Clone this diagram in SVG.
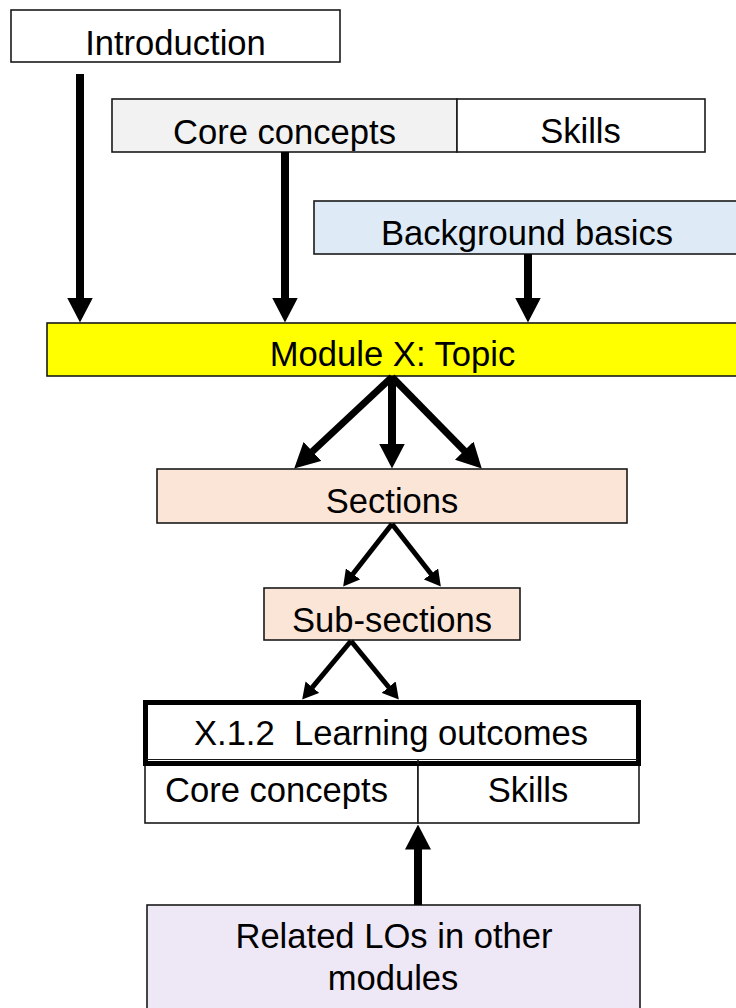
<svg xmlns="http://www.w3.org/2000/svg" width="736" height="1008" viewBox="0 0 736 1008">
  <style>
    .box { stroke: #1a1a1a; stroke-width: 1.6; }
    .txt { font-family: "Liberation Sans", Arial, sans-serif; font-size: 34.6px; fill: #000; text-anchor: middle; white-space: pre; }
    .big { stroke: #000; stroke-width: 8; fill: none; }
    .mid { stroke: #000; stroke-width: 7; fill: none; }
    .sml { stroke: #000; stroke-width: 5; fill: none; }
  </style>
  <defs>
    <marker id="headBig" markerUnits="userSpaceOnUse" viewBox="0 0 25 26" refX="0.5" refY="13" markerWidth="25" markerHeight="26" orient="auto">
      <path d="M0,0 L25,13 L0,26 Z" fill="#000"/>
    </marker>
    <marker id="headSml" markerUnits="userSpaceOnUse" viewBox="0 0 16 18" refX="0.5" refY="9" markerWidth="16" markerHeight="18" orient="auto">
      <path d="M0,0 L16,9 L0,18 Z" fill="#000"/>
    </marker>
  </defs>
  <rect width="736" height="1008" fill="#fff"/>

  <g id="introduction">
    <rect class="box" x="11" y="10" width="329" height="52" fill="#fff"/>
    <text class="txt" x="175.5" y="55">Introduction</text>
  </g>

  <g id="top-core-skills">
    <rect class="box" x="112" y="99" width="345" height="53" fill="#f2f2f2"/>
    <rect class="box" x="457" y="99" width="248" height="53" fill="#fff"/>
    <text class="txt" x="284.5" y="144">Core concepts</text>
    <text class="txt" x="580.5" y="143">Skills</text>
  </g>

  <g id="background-basics">
    <rect class="box" x="314" y="201" width="450" height="53" fill="#deebf7"/>
    <text class="txt" x="527" y="245">Background basics</text>
  </g>

  <g id="module">
    <rect class="box" x="47" y="323" width="720" height="53" fill="#ffff00"/>
    <text class="txt" x="392.5" y="366">Module X: Topic</text>
  </g>

  <g id="sections">
    <rect class="box" x="157" y="469" width="470" height="54" fill="#fbe5d6"/>
    <text class="txt" x="392" y="513">Sections</text>
  </g>

  <g id="sub-sections">
    <rect class="box" x="264" y="588" width="256" height="52" fill="#fbe5d6"/>
    <text class="txt" x="392" y="631.5">Sub-sections</text>
  </g>

  <g id="learning-outcomes">
    <rect class="box" x="145" y="759" width="273" height="64" fill="#fff"/>
    <rect class="box" x="418" y="759" width="221" height="64" fill="#fff"/>
    <rect x="145.5" y="702.5" width="493" height="61" fill="#fff" stroke="#000" stroke-width="5"/>
    <line x1="146" y1="759.5" x2="638" y2="759.5" stroke="#1a1a1a" stroke-width="1.2"/>
    <line x1="418" y1="759" x2="418" y2="764" stroke="#1a1a1a" stroke-width="1.6"/>
    <text class="txt" x="391" y="745">X.1.2  Learning outcomes</text>
    <text class="txt" x="276.5" y="802">Core concepts</text>
    <text class="txt" x="528" y="802">Skills</text>
  </g>

  <g id="related-los">
    <rect class="box" x="147" y="905" width="493" height="120" fill="#eee8f6"/>
    <text class="txt" x="394" y="948">Related LOs in other</text>
    <text class="txt" x="393" y="990">modules</text>
  </g>

  <g id="connectors">
    <line class="big" x1="80" y1="74" x2="80" y2="298" marker-end="url(#headBig)"/>
    <line class="big" x1="285" y1="152" x2="285" y2="298" marker-end="url(#headBig)"/>
    <line class="big" x1="528" y1="254" x2="528" y2="298" marker-end="url(#headBig)"/>
    <line class="big" x1="392" y1="376" x2="392" y2="444" marker-end="url(#headBig)"/>
    <line class="mid" x1="392" y1="377" x2="312.1" y2="451.8" marker-end="url(#headBig)"/>
    <line class="mid" x1="392" y1="377" x2="464.6" y2="451" marker-end="url(#headBig)"/>
    <line class="sml" x1="392" y1="524" x2="352.7" y2="574.3" marker-end="url(#headSml)"/>
    <line class="sml" x1="392" y1="524" x2="431.3" y2="574.3" marker-end="url(#headSml)"/>
    <line class="sml" x1="351" y1="641" x2="312.1" y2="687.6" marker-end="url(#headSml)"/>
    <line class="sml" x1="351" y1="641" x2="389" y2="687.5" marker-end="url(#headSml)"/>
    <line class="big" x1="418" y1="905" x2="418" y2="849" marker-end="url(#headBig)"/>
  </g>
</svg>
